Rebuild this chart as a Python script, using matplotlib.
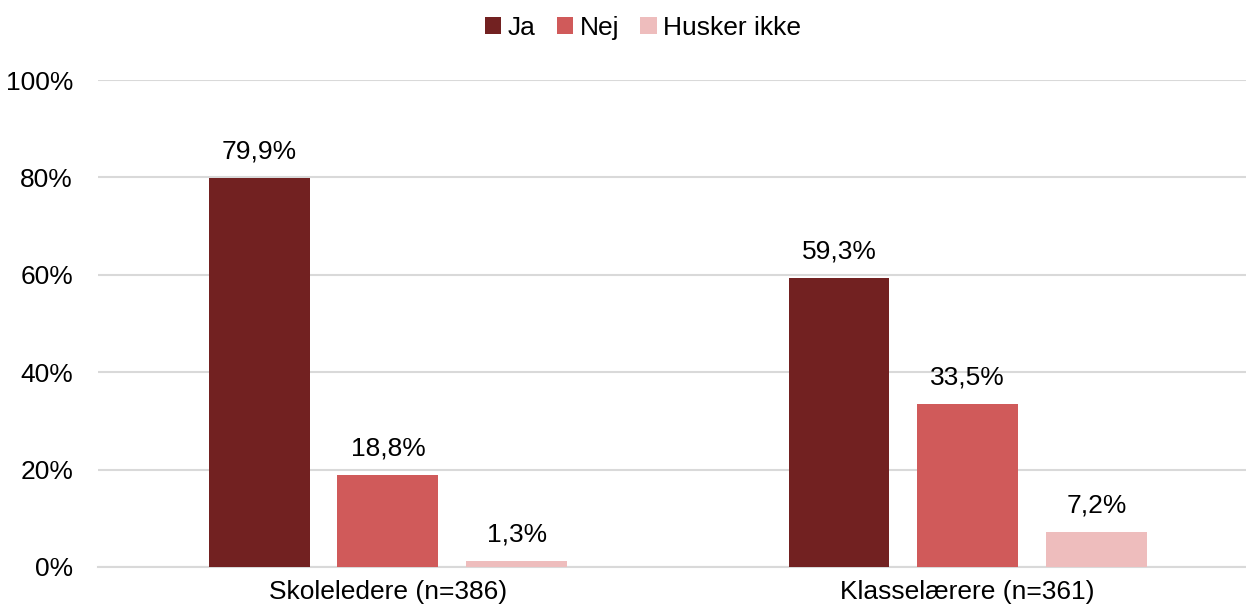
import matplotlib
matplotlib.use("Agg")
import numpy as np
from matplotlib import pyplot as plt

plt.rcParams['font.family'] = ['Liberation Sans', 'DejaVu Sans']

categories = ["Skoleledere (n=386)", "Klasselærere (n=361)"]
series = ["Ja", "Nej", "Husker ikke"]
ja = [79.9, 59.3]
nej = [18.8, 33.5]
husker = [1.3, 7.2]
colors = ["#722121", "#D05A5A", "#EEBDBD"]

fig = plt.figure(figsize=(12.46, 6.10), dpi=100)
ax = fig.add_axes([98 / 1246, (610 - 567) / 610, 1 - 98 / 1246, (567 - 80) / 610])

fs = 19
x = np.arange(len(categories))
w = 0.174
step = 0.222
for i, (name, vals) in enumerate(zip(series, [ja, nej, husker])):
    pos = x + (i - 1) * step
    ax.bar(pos, vals, width=w, color=colors[i], label=name, zorder=3)
    for p, v in zip(pos, vals):
        ax.text(p, v + 3.0, f"{v:.1f}".replace(".", ",") + "%", ha="center",
                va="bottom", fontsize=fs, color="#000000")

ax.set_ylim(0, 100)
ax.set_xlim(-0.5, 1.48)
ax.set_yticks(range(0, 101, 20))
ax.set_yticklabels([f"{t}%" for t in range(0, 101, 20)], fontsize=fs)
ax.set_xticks(x)
ax.set_xticklabels(categories, fontsize=fs)
ax.tick_params(axis="x", length=0, pad=9)
ax.tick_params(axis="y", length=0, pad=18)
ax.grid(axis="y", color="#d9d9d9", linewidth=1.5, zorder=0)
for s in ["top", "right", "left"]:
    ax.spines[s].set_visible(False)
ax.spines["bottom"].set_color("#d9d9d9")
ax.spines["bottom"].set_linewidth(1.5)

ax.legend(loc="upper center", bbox_to_anchor=(0.5 - 29 / 1148, 1.18), ncol=3, frameon=False,
          fontsize=fs, handlelength=0.62, handleheight=0.62, handletextpad=0.25,
          columnspacing=0.8)

fig.savefig("out.png", dpi=100)
